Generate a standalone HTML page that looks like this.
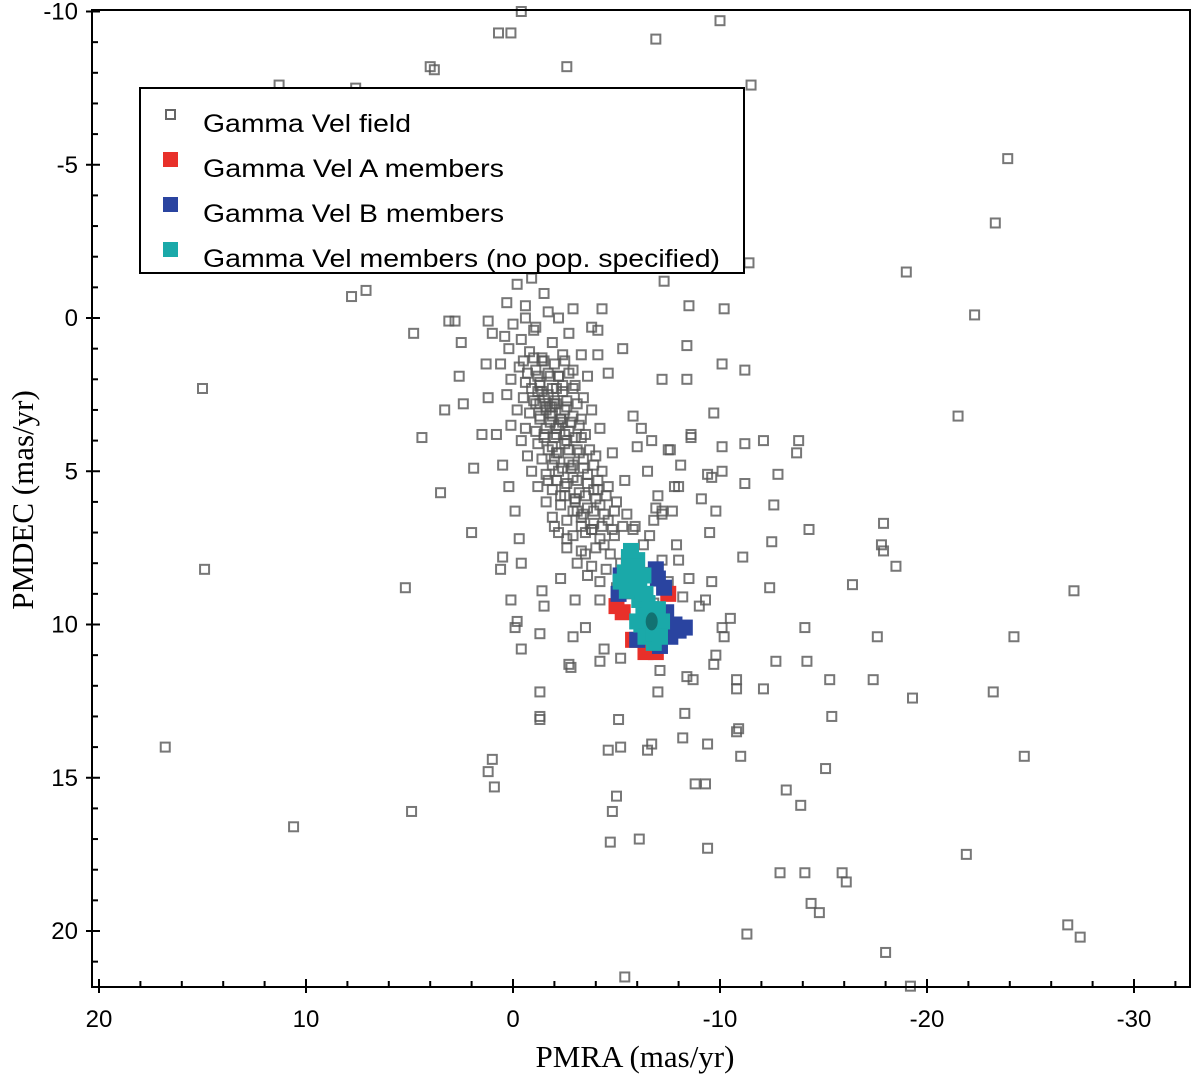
<!DOCTYPE html>
<html><head><meta charset="utf-8"><style>
body{margin:0;background:#fff}
svg{display:block}
</style></head><body>
<svg id="chart" width="1200" height="1083" viewBox="0 0 1200 1083" xmlns="http://www.w3.org/2000/svg">
<g id="field"></g>
<g id="members"></g>
<g id="axes"></g>
<g>
<rect x="140" y="88" width="604" height="185" fill="#fff" stroke="#000" stroke-width="2"/>
<rect x="166" y="110" width="9" height="9" fill="none" stroke="#666" stroke-width="2"/>
<text x="203" y="132" font-family="Liberation Sans, sans-serif" font-size="25" textLength="208" lengthAdjust="spacingAndGlyphs">Gamma Vel field</text>
<rect x="163" y="152" width="15" height="15" fill="#e8302a"/>
<text x="203" y="177" font-family="Liberation Sans, sans-serif" font-size="25" textLength="301" lengthAdjust="spacingAndGlyphs">Gamma Vel A members</text>
<rect x="163" y="197" width="15" height="15" fill="#2a44a0"/>
<text x="203" y="222" font-family="Liberation Sans, sans-serif" font-size="25" textLength="301" lengthAdjust="spacingAndGlyphs">Gamma Vel B members</text>
<rect x="163" y="242" width="15" height="15" fill="#1aa9a9"/>
<text x="203" y="267" font-family="Liberation Sans, sans-serif" font-size="25" textLength="517" lengthAdjust="spacingAndGlyphs">Gamma Vel members (no pop. specified)</text>
</g>
<text x="635" y="1067" text-anchor="middle" font-family="Liberation Serif, serif" font-size="31">PMRA (mas/yr)</text>
<text transform="translate(33,500) rotate(-90)" text-anchor="middle" font-family="Liberation Serif, serif" font-size="31">PMDEC (mas/yr)</text>
</svg>
<script>
const fieldPMRA=[-0.4,0.7,0.1,-6.9,-10.0,4.0,3.8,-2.6,11.3,7.6,-11.5,-23.9,-23.3,-11.4,-19.0,-22.3,7.8,7.1,4.8,15.0,-21.5,4.4,3.5,14.9,5.2,16.8,10.6,4.9,-27.1,-24.2,-24.7,-23.2,-19.3,-17.6,-17.4,-17.9,-17.8,-17.9,-18.5,-16.4,-15.3,-15.4,-15.1,-13.9,-13.2,-14.1,-14.4,-14.8,-15.9,-16.1,-18.0,-21.9,-26.8,-27.4,-11.3,-12.9,-19.2,-5.4,-9.4,-6.1,-4.7,-5.0,-4.8,1.0,1.2,-4.6,-5.2,-6.5,-6.7,-5.1,-1.3,-1.3,-1.3,0.9,-8.8,-9.3,-8.2,-9.4,-8.3,-8.7,-10.8,-10.9,-11.0,-10.8,-10.8,-12.1,-12.7,-14.2,-14.1,-12.4,-11.1,-12.5,-14.3,-12.6,-12.8,-11.2,-13.7,-13.8,-12.1,-11.2,-9.7,-10.1,-11.2,-8.4,-7.2,-8.4,-8.5,-10.2,-7.3,-2.9,-3.8,-4.1,-4.3,-4.1,3.1,2.8,2.5,1.2,2.6,3.3,2.4,1.5,1.9,2.0,0.5,0.1,-0.2,-0.1,-1.4,-1.5,-0.4,-1.3,-0.4,-2.9,-2.8,-2.7,-4.4,-4.2,-3.5,-3.0,-2.3,-4.2,-5.2,-7.1,-7.0,-8.4,-10.1,-10.2,-9.7,-9.8,-9.0,-9.3,-8.5,-8.2,-9.6,-10.5,-9.5,-9.8,-9.4,-8.0,-7.9,-7.2,-6.9,-7.6,-8.1,-8.6,-9.6,-9.1,-10.1,-10.1,-6.7,-7.8,-7.2,-6.6,-6.2,
-0.9,-0.2,-1.5,0.3,-0.6,-1.7,0.0,-1.1,-2.2,0.4,-0.4,-1.9,-2.7,0.2,-0.8,-1.4,-2.4,0.6,-0.3,-1.1,-1.8,-2.9,-3.3,0.1,-0.6,-1.3,-2.1,-3.0,-3.6,0.3,-0.5,-1.0,-1.5,-2.0,-2.6,-3.4,-0.2,-0.8,-1.3,-1.8,-2.3,-2.9,-3.8,0.1,-0.6,-1.1,-1.6,-2.1,-2.7,-3.3,-4.2,-0.4,-1.2,-1.9,-2.5,-3.1,-0.7,-1.4,-2.0,-2.7,-3.4,-4.0,-4.8,-0.9,-1.6,-2.2,-2.9,-3.6,-4.3,-1.2,-1.9,-2.5,-3.2,-3.9,-4.6,-5.4,-1.6,-2.3,-3.0,-3.6,-4.2,-5.0,-1.9,-2.6,-3.3,-3.9,-4.6,-5.5,-2.2,-2.9,-3.5,-4.2,-4.9,-5.8,-2.6,-3.3,-4.0,-4.7,-6.3,-3.1,-3.8,-4.5,-5.2,-4.2,-5.0,-5.6,-6.5,-7.2,-7.5,-6.8,1.0,1.3,1.2,0.8,0.5,0.2,-0.1,-0.3,0.6,-5.3,-4.6,-5.8,-6.0,-6.5,-7.0,-5.9,-6.8,-7.7,-8.0,-7.5,-8.6,
-1.2,-1.9,-2.4,-1.5,-2.1,-2.8,-1.7,-2.3,-3.1,-2.0,-2.6,-3.5,-3.0,-3.8,-4.4,-3.6,-4.1,-0.6,-1.0,-1.4,-2.2,-1.3,-2.5,-3.2,
-0.5,-1.0,-1.5,-2.0,-2.5,-0.7,-1.2,-1.7,-2.2,-2.7,-0.9,-1.4,-1.9,-2.4,-2.9,-1.1,-1.6,-2.1,-2.6,-3.1,-1.3,-1.8,-2.3,-2.8,-3.3,-1.5,-2.0,-2.5,-3.0,-3.5,-1.7,-2.2,-2.7,-3.2,-3.7,-1.9,-2.4,-2.9,-3.4,-3.9,-2.1,-2.6,-3.1,-3.6,-4.1,-2.5,-3.0,-3.5,-4.0,-4.5,-2.9,-3.4,-3.9,-4.4,-4.9,-3.3,-3.8,-4.3,-4.8,-5.3,-1.3,-1.7,-2.0,-1.6,-1.9,-2.2,-2.4,-1.8,-2.1,-2.6];
const fieldPMDEC=[-10.0,-9.3,-9.3,-9.1,-9.7,-8.2,-8.1,-8.2,-7.6,-7.5,-7.6,-5.2,-3.1,-1.8,-1.5,-0.1,-0.7,-0.9,0.5,2.3,3.2,3.9,5.7,8.2,8.8,14.0,16.6,16.1,8.9,10.4,14.3,12.2,12.4,10.4,11.8,6.7,7.4,7.6,8.1,8.7,11.8,13.0,14.7,15.9,15.4,18.1,19.1,19.4,18.1,18.4,20.7,17.5,19.8,20.2,20.1,18.1,21.8,21.5,17.3,17.0,17.1,15.6,16.1,14.4,14.8,14.1,14.0,14.1,13.9,13.1,12.2,13.0,13.1,15.3,15.2,15.2,13.7,13.9,12.9,11.8,13.5,13.4,14.3,12.1,11.8,12.1,11.2,11.2,10.1,8.8,7.8,7.3,6.9,6.1,5.1,5.4,4.4,4.0,4.0,4.1,3.1,1.5,1.7,2.0,2.0,0.9,-0.4,-0.3,-1.2,-0.3,0.3,0.4,-0.3,1.2,0.1,0.1,0.8,0.1,1.9,3.0,2.8,3.8,4.9,7.0,7.8,9.2,9.9,10.1,8.9,9.4,8.0,10.3,10.8,10.4,11.4,11.3,10.8,11.2,10.1,9.2,8.5,9.2,11.1,11.5,12.2,11.7,10.1,10.4,11.3,11.0,9.4,9.2,8.5,9.1,8.6,9.8,7.0,6.3,5.1,7.9,7.4,6.4,6.2,4.3,4.8,3.8,5.2,5.9,5.0,4.2,4.0,5.5,6.3,7.1,3.6,
-1.3,-1.1,-0.8,-0.5,-0.4,-0.2,0.2,0.3,0.0,0.6,0.7,0.8,0.5,1.0,1.1,1.3,1.2,1.5,1.6,1.7,1.9,1.7,1.2,2.0,2.1,2.2,2.3,2.2,1.9,2.5,2.6,2.7,2.6,2.8,2.7,2.6,3.0,3.1,3.2,3.1,3.3,3.2,3.0,3.5,3.6,3.7,3.6,3.8,3.7,3.9,3.6,4.0,4.1,4.2,4.1,4.3,4.5,4.6,4.6,4.7,4.6,4.5,4.4,5.0,5.1,5.0,5.2,5.1,5.0,5.5,5.6,5.5,5.7,5.6,5.5,5.3,6.0,6.1,6.0,6.2,6.1,6.0,6.5,6.6,6.5,6.7,6.6,6.4,7.0,7.1,7.0,7.2,7.1,6.9,7.5,7.6,7.5,7.7,7.4,8.0,8.1,8.2,8.0,8.6,8.8,9.0,8.3,7.9,8.6,9.3,0.5,1.5,2.6,3.8,4.8,5.5,6.3,7.2,8.2,1.0,1.8,3.2,4.2,5.0,5.8,6.8,6.6,6.3,5.5,4.3,3.9,
2.4,2.9,3.4,3.9,4.4,4.9,5.3,5.8,6.3,6.8,7.2,7.7,5.9,6.9,7.4,8.4,5.6,0.0,0.4,1.4,1.9,2.8,3.0,3.5,
1.4,1.3,1.4,1.5,1.4,1.8,1.9,1.8,1.9,1.8,2.3,2.4,2.3,2.4,2.3,2.8,2.9,2.8,2.9,2.8,3.3,3.4,3.3,3.4,3.3,3.8,3.9,3.8,3.9,3.8,4.3,4.4,4.3,4.4,4.3,4.8,4.9,4.8,4.9,4.8,5.3,5.4,5.3,5.4,5.3,5.8,5.9,5.8,5.9,5.8,6.3,6.4,6.3,6.4,6.3,6.8,6.9,6.8,6.9,6.8,2.1,2.5,2.7,3.0,3.2,3.5,2.2,2.9,3.6,4.0];
const memberA_PMRA=[-5.3,-5.0,-5.8,-6.4,-6.9,-7.5,-5.6,-7.1];
const memberA_PMDEC=[9.6,9.4,10.5,10.9,10.9,9.0,8.0,10.3];
const memberB_PMRA=[-7.0,-7.3,-5.1,-7.4,-8.0,-8.3,-7.6,-6.0,-7.1,-6.9,-5.2,-7.8];
const memberB_PMDEC=[8.5,8.8,9.0,9.6,10.2,10.1,10.4,10.5,10.7,8.2,8.4,10.0];
const memberU_PMRA=[-5.6,-6.0,-5.4,-5.9,-6.3,-5.2,-6.1,-6.5,-6.3,-6.7,-6.9,-6.5,-6.8,-7.2,-6.2,-5.7,-5.5,-5.8,-6.1,-6.4,-6.6,-7.0,-6.0,-6.4,-6.8,-7.1];
const memberU_PMDEC=[7.8,7.9,8.3,8.5,8.4,8.6,9.2,9.3,9.7,9.8,10.1,10.2,10.6,9.9,10.0,7.6,8.9,8.1,8.8,9.0,9.5,9.5,9.9,10.4,10.3,10.4];
const xTicks=[20,10,0,-10,-20,-30];
const yTicks=[-10,-5,0,5,10,15,20];

const L=92,R=1190,T=10,B=987;
function xs(v){return 513-20.7*v;}
function ys(v){return 318+30.65*v;}
const NS="http://www.w3.org/2000/svg";
function mk(tag,attrs,parent){const e=document.createElementNS(NS,tag);for(const k in attrs)e.setAttribute(k,attrs[k]);parent.appendChild(e);return e;}

const fg=document.getElementById('field');
for(let i=0;i<fieldPMRA.length;i++){
  const r=mk('rect',{x:xs(fieldPMRA[i])-4.5,y:ys(fieldPMDEC[i])-4.5,width:9,height:9,fill:'none',stroke:'#555','stroke-width':2,'stroke-opacity':0.8},fg);
  
  
}
const mg=document.getElementById('members');
function drawMembers(px,py,col,name){
  for(let i=0;i<px.length;i++){
    const r=mk('rect',{x:xs(px[i])-8,y:ys(py[i])-8,width:16,height:16,fill:col},mg);
    
    
  }
}
drawMembers(memberA_PMRA,memberA_PMDEC,'#e8302a','member-a-point');
drawMembers(memberB_PMRA,memberB_PMDEC,'#2a44a0','member-b-point');
drawMembers(memberU_PMRA,memberU_PMDEC,'#1aa9a9','member-unspecified-point');
const core=mk('ellipse',{cx:xs(-6.7),cy:ys(9.9),rx:6,ry:9,fill:'#0a3a3a','fill-opacity':0.5},mg);



const ax=document.getElementById('axes');
const fr=mk('rect',{x:L,y:T,width:R-L,height:B-T,fill:'none',stroke:'#000','stroke-width':2},ax);


for(let v=20;v>=-32;v-=2){
  const major=v%10===0;
  mk('line',{x1:xs(v),x2:xs(v),y1:B-(major?8:6),y2:B+(major?6:0),stroke:'#000','stroke-width':2},ax);
}
for(let v=-10;v<=21;v+=1){
  const major=v%5===0;
  mk('line',{x1:L-(major?6:0),x2:L+(major?8:6),y1:ys(v),y2:ys(v),stroke:'#000','stroke-width':2},ax);
}
xTicks.forEach(v=>{
  const t=mk('text',{x:xs(v),y:1027,'text-anchor':'middle','font-family':'Liberation Sans, sans-serif','font-size':24},ax);
  t.textContent=String(v);
  
  
});
yTicks.forEach(v=>{
  const t=mk('text',{x:78,y:ys(v)+8,'text-anchor':'end','font-family':'Liberation Sans, sans-serif','font-size':24},ax);
  t.textContent=String(v);
  
  
});
</script>
</body></html>
